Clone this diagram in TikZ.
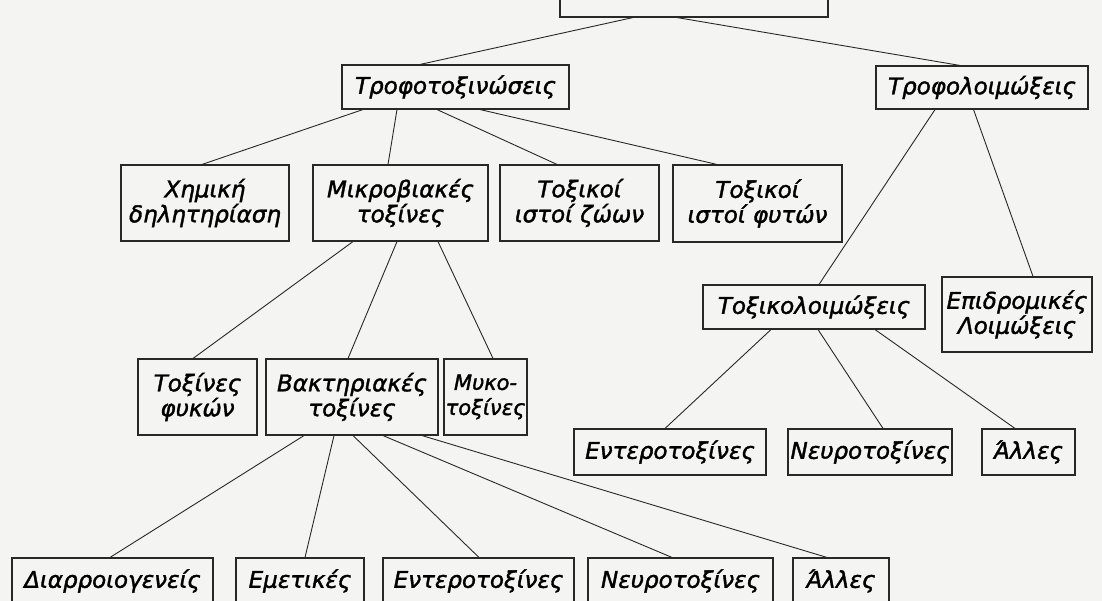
\documentclass[tikz,border=0pt]{standalone}
\usepackage{fontspec}
\setmainfont{DejaVu Sans}
\newfontfamily\boxfont[FakeBold=1.6,ItalicFont={DejaVu Sans Oblique}]{DejaVu Sans}
\definecolor{bg}{RGB}{244,244,243}
\definecolor{ink}{RGB}{40,40,40}
\begin{document}
\begin{tikzpicture}[x=1pt,y=-1pt,
  box/.style={draw=ink,line width=1.1pt,rectangle,inner sep=0pt,align=center,
    font=\boxfont\fontsize{23}{25}\selectfont\itshape,text=black},
  link/.style={draw=ink,line width=0.9pt}]
\fill[bg] (0,0) rectangle (1102,601);
\useasboundingbox (0,0) rectangle (1102,601);
\clip (0,0) rectangle (1102,601);
% nodes
\node[box,minimum width=268pt,minimum height=47pt] (root) at (694,-6.5) {};
\node[box,minimum width=227pt,minimum height=44pt] (trtox) at (455.5,87) {Τροφοτοξινώσεις};
\node[box,minimum width=212pt,minimum height=43pt] (trloim) at (982,87.5) {Τροφολοιμώξεις};
\node[box,minimum width=168pt,minimum height=76pt] (chem) at (205,203) {Χημική\\δηλητηρίαση};
\node[box,minimum width=175pt,minimum height=76pt] (mikro) at (400.5,203) {Μικροβιακές\\τοξίνες};
\node[box,minimum width=159pt,minimum height=76pt] (zoon) at (579.5,203) {Τοξικοί\\ιστοί ζώων};
\node[box,minimum width=169pt,minimum height=77pt] (fyton) at (757.5,203.5) {Τοξικοί\\ιστοί φυτών};
\node[box,minimum width=222pt,minimum height=44pt] (txloim) at (814,307) {Τοξικολοιμώξεις};
\node[box,minimum width=150pt,minimum height=75pt] (epidr) at (1017,314.5) {Επιδρομικές\\Λοιμώξεις};
\node[box,minimum width=119pt,minimum height=76pt] (fykon) at (197.5,397) {Τοξίνες\\φυκών};
\node[box,minimum width=172pt,minimum height=76pt] (bakt) at (352,397) {Βακτηριακές\\τοξίνες};
\node[box,minimum width=83pt,minimum height=76pt,font=\boxfont\fontsize{21}{25}\selectfont\itshape] (myko) at (485.5,397) {Μυκο-\\τοξίνες};
\node[box,minimum width=192pt,minimum height=46pt] (enterB) at (670,452) {Εντεροτοξίνες};
\node[box,minimum width=164pt,minimum height=46pt] (neuroB) at (870,452) {Νευροτοξίνες};
\node[box,minimum width=93pt,minimum height=46pt] (allesB) at (1028.5,452) {Άλλες};
\node[box,minimum width=201pt,minimum height=46pt] (diar) at (112.5,581) {Διαρροιογενείς};
\node[box,minimum width=128pt,minimum height=46pt] (emet) at (300,581) {Εμετικές};
\node[box,minimum width=191pt,minimum height=46pt] (enterA) at (478.5,581) {Εντεροτοξίνες};
\node[box,minimum width=185pt,minimum height=46pt] (neuroA) at (680.5,581) {Νευροτοξίνες};
\node[box,minimum width=96pt,minimum height=46pt] (allesA) at (841,581) {Άλλες};
% connectors
\draw[link] ([xshift=-61pt]root.south) -- ([xshift=-35.5pt]trtox.north);
\draw[link] ([xshift=-17pt]root.south) -- ([xshift=-22pt]trloim.north);
\draw[link] ([xshift=-92.5pt]trtox.south) -- ([xshift=-3pt]chem.north);
\draw[link] ([xshift=-58.5pt]trtox.south) -- ([xshift=-12.5pt]mikro.north);
\draw[link] ([xshift=-18.5pt]trtox.south) -- ([xshift=-22.5pt]zoon.north);
\draw[link] ([xshift=24.5pt]trtox.south) -- ([xshift=-40.5pt]fyton.north);
\draw[link] ([xshift=-47pt]trloim.south) -- ([xshift=5pt]txloim.north);
\draw[link] ([xshift=-8.5pt]trloim.south) -- ([xshift=16pt]epidr.north);
\draw[link] ([xshift=-47.5pt]mikro.south) -- ([xshift=-4.5pt]fykon.north);
\draw[link] ([xshift=-3.5pt]mikro.south) -- ([xshift=-4pt]bakt.north);
\draw[link] ([xshift=37.5pt]mikro.south) -- ([xshift=7.5pt]myko.north);
\draw[link] ([xshift=-43pt]txloim.south) -- ([xshift=-5pt]enterB.north);
\draw[link] ([xshift=4pt]txloim.south) -- ([xshift=13pt]neuroB.north);
\draw[link] ([xshift=61pt]txloim.south) -- ([xshift=-13.5pt]allesB.north);
\draw[link] ([xshift=-48pt]bakt.south) -- ([xshift=-2.5pt]diar.north);
\draw[link] ([xshift=-18pt]bakt.south) -- ([xshift=5pt]emet.north);
\draw[link] ([xshift=1pt]bakt.south) -- ([xshift=0.5pt]enterA.north);
\draw[link] ([xshift=31pt]bakt.south) -- ([xshift=-8.5pt]neuroA.north);
\draw[link] ([xshift=70pt]bakt.south) -- ([xshift=-14pt]allesA.north);
\end{tikzpicture}
\end{document}
